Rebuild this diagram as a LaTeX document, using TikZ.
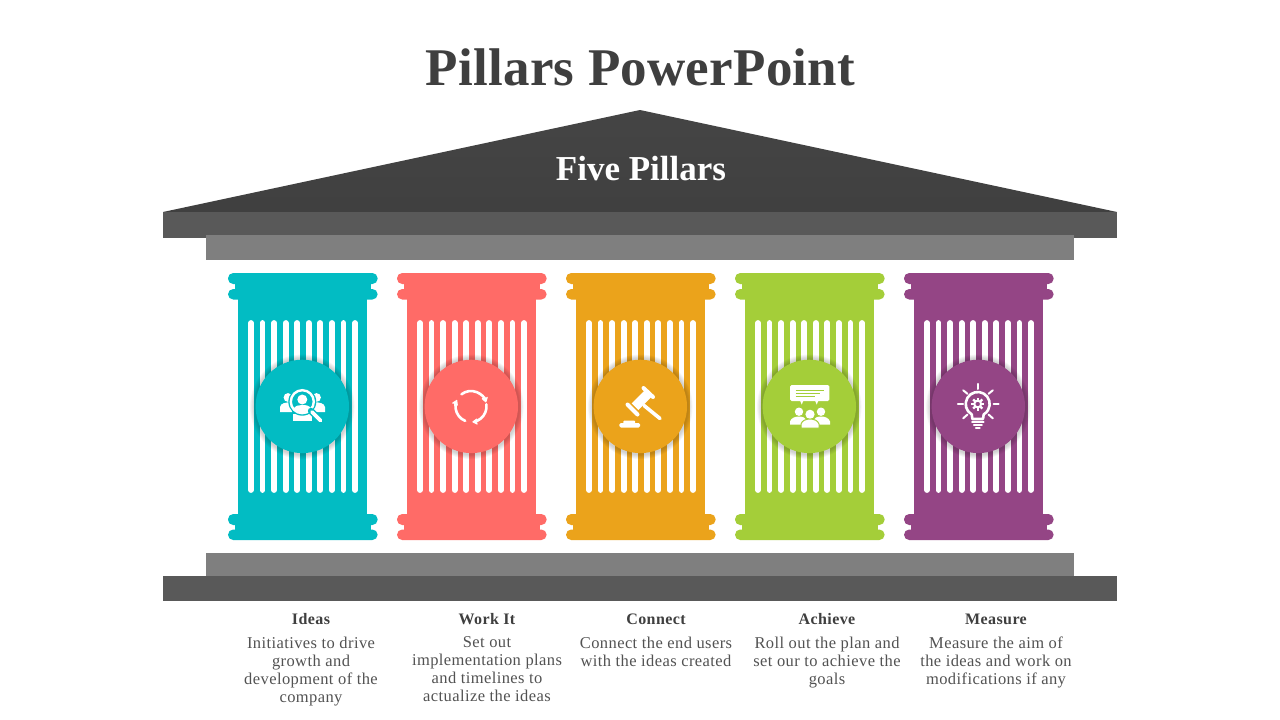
\documentclass[tikz,border=0pt]{standalone}
\usepackage{fontspec}
\setmainfont{Liberation Serif}
\newfontfamily\titlefont[LetterSpace=0.5]{Liberation Serif}
\newfontfamily\roofont{Liberation Serif}
\newfontfamily\headfont[LetterSpace=2.5]{Liberation Serif}
\newfontfamily\bodyfont[LetterSpace=2.5]{Liberation Serif}
\usetikzlibrary{arrows.meta}
\definecolor{tealc}{HTML}{02BCC3}
\definecolor{coralc}{HTML}{FF6B67}
\definecolor{orangec}{HTML}{EBA31B}
\definecolor{greenc}{HTML}{A4CE39}
\definecolor{purplec}{HTML}{944585}
\definecolor{inkc}{HTML}{3F3F3F}
\definecolor{bandc}{HTML}{595959}
\definecolor{beamc}{HTML}{7F7F7F}
\tikzset{
  lug/.style={fill=#1,rounded corners=5.2pt},
  flute/.style={draw=white,line width=5.8pt,line cap=round},
  iconfill/.style={fill=white,draw=none},
  iconline/.style={draw=white,line cap=round,line join=round},
  head/.style={font=\headfont\bfseries\fontsize{16}{18}\selectfont,text=inkc,anchor=center,inner sep=0pt},
  desc/.style={font=\bodyfont\fontsize{16.5}{18}\selectfont,text=black!68,align=center,anchor=north,inner sep=0pt},
  cueicon/.style={iconline,line width=2.6pt,-{Stealth[length=6.5pt,width=8pt,round]}},
}
\begin{document}
\begin{tikzpicture}[x=1pt,y=-1pt]
\useasboundingbox (0,0) rectangle (1280,720);
\fill[white] (0,0) rectangle (1280,720);
% roof
\path[top color=black!73,bottom color=black!75] (163,212) -- (640,110) -- (1117,212) -- cycle;
\fill[bandc] (163,212) rectangle (1117,238);
\fill[beamc] (206,235) rectangle (1074,260);
\fill[beamc] (206,553) rectangle (1074,576);
\fill[bandc] (163,576) rectangle (1117,601);
% pillars
\foreach \i/\c in {0/tealc,1/coralc,2/orangec,3/greenc,4/purplec}{
  \begin{scope}[shift={(169*\i,0)}]
    \fill[\c] (238,273) rectangle (367.3,540);
    \fill[\c] (235,273) rectangle (371,299);
    \fill[\c] (235,514) rectangle (371,540);
    \fill[lug=\c] (228,273) rectangle (377.6,284);
    \fill[lug=\c] (228,289) rectangle (377.6,299.5);
    \fill[lug=\c] (228,514) rectangle (377.6,525);
    \fill[lug=\c] (228,529.5) rectangle (377.6,540);
    \foreach \k in {0,...,9}{
      \draw[flute] (251+11.55*\k,323) -- (251+11.55*\k,490);
    }
    \foreach \r in {5.6,4.8,...,0.8}{
      \fill[black,opacity=0.032] (302.3,406.8) circle[radius=46.7+\r];
    }
    \fill[\c] (302.3,406.4) circle[radius=46.7];
  \end{scope}
}
% icon 1: ideas
\begin{scope}
  \fill[iconfill] (288,397.5) circle[radius=4.4];
  \fill[iconfill] (316.5,397.5) circle[radius=4.4];
  \fill[iconfill] (280,412) -- (280,407) .. controls (281,403) and (285,402.5) .. (292,402) -- (292,412) -- cycle;
  \fill[iconfill] (325,412) -- (325,407) .. controls (324,403) and (320,402.5) .. (313,402) -- (313,412) -- cycle;
  \fill[iconfill] (293,414) rectangle (312,420.5);
  \fill[tealc] (302.3,401.7) circle[radius=14];
  \draw[draw=white,line width=2.4pt] (302.3,401.7) circle[radius=11.5];
  \fill[iconfill] (302.3,399.5) circle[radius=5];
  \fill[iconfill] (293.5,409) .. controls (295,405.5) and (299,405) .. (302.3,405) .. controls (306,405) and (310,405.5) .. (311,409) .. controls (306,413.5) and (298,413.5) .. (293.5,409) -- cycle;
  \draw[tealc,line width=6.4pt,line cap=round] (311,411) -- (321,421);
  \draw[iconline,line width=3.8pt] (312,412) -- (320.5,420.5);
\end{scope}
% icon 2: work it
\begin{scope}
  \draw[cueicon] (471,406.5) ++(232:15.5) arc[start angle=232,end angle=345,radius=15.5];
  \draw[cueicon] (471,406.5) ++(112:15.5) arc[start angle=112,end angle=205,radius=15.5];
  \draw[cueicon] (471,406.5) ++(-8:15.5) arc[start angle=-8,end angle=85,radius=15.5];
\end{scope}
% icon 3: connect (gavel)
\begin{scope}
  \fill[iconfill] (631.7,403.3) -- (644.3,390.7) -- (651,397.3) -- (638.3,410) -- cycle;
  \draw[iconline,line width=4pt] (643.5,388) -- (653,397);
  \draw[iconline,line width=4pt] (627.5,404.5) -- (637.5,414.5);
  \draw[iconline,line width=3.6pt] (644,405.5) -- (660,418.5);
  \fill[iconfill,rounded corners=1.5pt] (619.3,423) rectangle (640,427.5);
  \fill[iconfill,rounded corners=1pt] (623.3,420.5) rectangle (635,424);
\end{scope}
% icon 4: achieve
\begin{scope}
  \fill[iconfill,rounded corners=1.5pt] (790,385) rectangle (829.3,401);
  \fill[iconfill] (800,400.5) -- (803.5,400.5) -- (801.7,404.5) -- cycle;
  \fill[iconfill] (815,400.5) -- (818.5,400.5) -- (816.7,404.5) -- cycle;
  \draw[greenc,line width=0.9pt] (795.7,390.7) -- (824.3,390.7);
  \draw[greenc,line width=0.9pt] (795.7,393.3) -- (820,393.3);
  \draw[greenc,line width=0.9pt] (795.7,396) -- (815,396);
  \fill[iconfill] (799,411.7) circle[radius=4.2];
  \fill[iconfill] (821,411.7) circle[radius=4.2];
  \fill[iconfill] (810,414.3) circle[radius=4.6];
  \fill[iconfill] (790,424.5) -- (790,421.5) .. controls (791,418) and (795,416.5) .. (799,416.5) .. controls (803,416.5) and (806,418) .. (807,421) -- (807,424.5) -- cycle;
  \fill[iconfill] (830,424.5) -- (830,421.5) .. controls (829,418) and (825,416.5) .. (821,416.5) .. controls (817,416.5) and (814,418) .. (813,421) -- (813,424.5) -- cycle;
  \path[fill=white,draw=greenc,line width=1pt] (801,428) -- (801,424) .. controls (802,420.5) and (806,419) .. (810,419) .. controls (814,419) and (818,420.5) .. (819,424) -- (819,428) -- cycle;
\end{scope}
% icon 5: measure
\begin{scope}
  \draw[iconline,line width=2.6pt] (977.7,404) ++(120:12) arc[start angle=120,end angle=420,radius=12] -- (983,419) -- (972.4,419) -- cycle;
  \foreach \a in {0,45,...,315}{
    \draw[iconline,line width=2.2pt,line cap=butt] (977.7,404) ++(\a:3.5) -- ++(\a:3);
  }
  \draw[iconline,line width=2pt] (977.7,404) circle[radius=3.4];
  \draw[iconline,line width=2.2pt] (972.2,421.8) -- (983.5,421.8);
  \draw[iconline,line width=2pt] (973.8,425.2) -- (981.8,425.2);
  \draw[iconline,line width=1.8pt] (975.8,428.2) -- (979.8,428.2);
  \draw[iconline,line width=2pt] (977.7,383.8) -- (977.7,389);
  \draw[iconline,line width=2pt] (957.8,404) -- (963,404);
  \draw[iconline,line width=2pt] (993.5,404) -- (998.7,404);
  \draw[iconline,line width=2pt] (963.2,390.3) -- (967.5,393.8);
  \draw[iconline,line width=2pt] (992.8,390.3) -- (988.5,393.8);
  \draw[iconline,line width=2pt] (963.2,418.3) -- (967.5,414.5);
  \draw[iconline,line width=2pt] (992.8,418.3) -- (988.5,414.5);
\end{scope}
% text
\node[font=\titlefont\bfseries\fontsize{53}{56}\selectfont,text=inkc,inner sep=0pt] (title) at (640.5,67.5) {Pillars PowerPoint};
\node[font=\roofont\bfseries\fontsize{35}{38}\selectfont,text=white,inner sep=0pt] (roof) at (641,169) {Five Pillars};
\node[head] (h1) at (311,619) {Ideas};
\node[head] (h2) at (487,619) {Work It};
\node[head] (h3) at (656,619) {Connect};
\node[head] (h4) at (827,619) {Achieve};
\node[head] (h5) at (996,619) {Measure};
\node[desc] (d1) at (311,636.6) {Initiatives to drive\\growth and\\development of the\\company};
\node[desc] (d2) at (487,636.6) {Set out\\implementation plans\\and timelines to\\actualize the ideas};
\node[desc] (d3) at (656,636.6) {Connect the end users\\with the ideas created};
\node[desc] (d4) at (827,636.6) {Roll out the plan and\\set our to achieve the\\goals};
\node[desc] (d5) at (996,636.6) {Measure the aim of\\the ideas and work on\\modifications if any};
\end{tikzpicture}
\end{document}
